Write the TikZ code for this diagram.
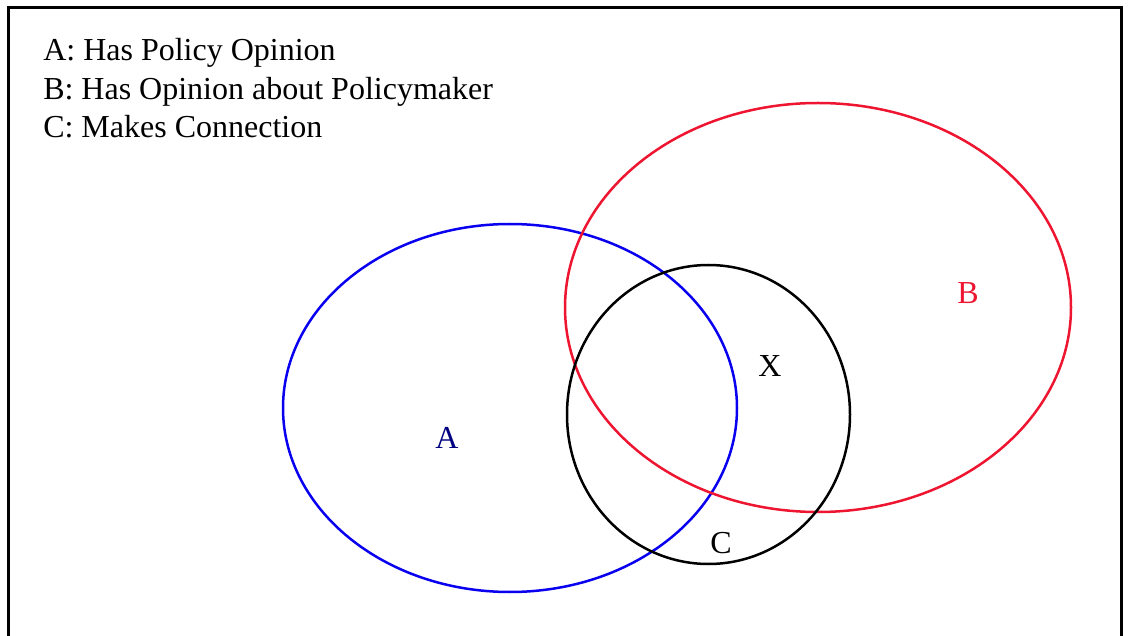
\documentclass[tikz,border=0pt]{standalone}
\usepackage{fontspec}
\setmainfont{Liberation Serif}
\usepackage{xcolor}
\usepackage{tikz}
\definecolor{setA}{HTML}{0A00F0}
\definecolor{setAtext}{HTML}{000080}
\definecolor{setB}{HTML}{EE1530}

\begin{document}
\begin{tikzpicture}[x=1pt, y=-1pt, line width=2.5pt,
    lbl/.style={font=\fontsize{32}{37}\selectfont, inner sep=0pt},
    keytext/.style={lbl, anchor=base west}]
  \useasboundingbox (0,0) rectangle (1128,636);
  % frame (bottom edge runs off the page)
  \draw[line width=3pt] (8,640) -- (8,8) -- (1121,8) -- (1121,640);

  % key
  \node[keytext] (keyA) at (42,61) {A: Has Policy Opinion};
  \node[keytext] (keyB) at (42,100) {B: Has Opinion about Policymaker};
  \node[keytext] (keyC) at (42,138) {C: Makes Connection};

  % the three sets
  \draw[setA] (510,408) ellipse [x radius=227, y radius=184];
  \draw[setB] (818,307.5) ellipse [x radius=253, y radius=204.5];
  \draw[black] (708.5,414.5) ellipse [x radius=141.5, y radius=149.5];

  \node[lbl, text=setAtext] (labA) at (447,438) {A};
  \node[lbl, text=setB] (labB) at (968,293) {B};
  \node[lbl] (labX) at (770,366) {X};
  \node[lbl] (labC) at (721,543) {C};
\end{tikzpicture}
\end{document}
